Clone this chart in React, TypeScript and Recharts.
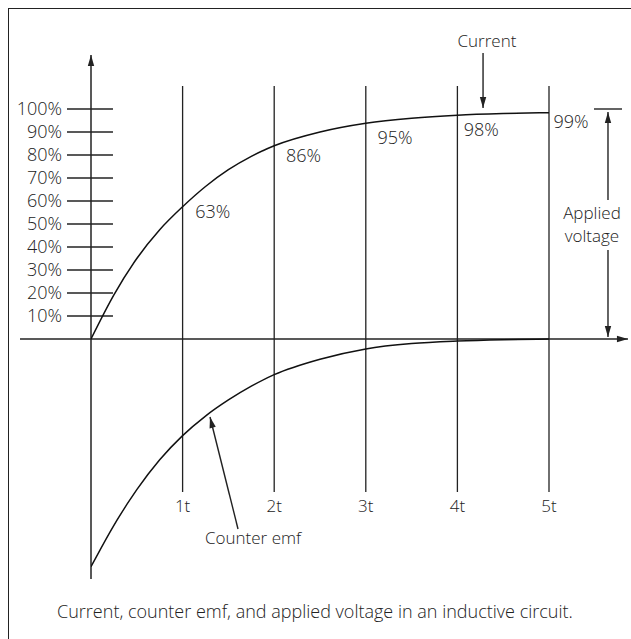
import React from 'react';
import { LineChart, Line, XAxis, YAxis, ReferenceLine, ReferenceDot } from 'recharts';

// ---- data ----
const timeConstants = [1, 2, 3, 4, 5];
const timeLabels = ['1t', '2t', '3t', '4t', '5t'];
const percentTicks = [10, 20, 30, 40, 50, 60, 70, 80, 90, 100];
const sampleT = [0, 0.25, 0.5, 0.75, 1, 1.25, 1.5, 1.75, 2, 2.5, 3, 3.5, 4, 4.5, 5];
const currentPct = [0, 19.2, 35, 47.5, 57.5, 66.3, 73.6, 79.4, 84, 90, 93.8, 96, 97.3, 98, 98.4];
const counterEmfPct = [-99, -81, -65.5, -52.5, -42, -33.5, -26.5, -20.5, -15.5, -8.8, -4.3, -2, -0.9, -0.3, 0];
const stepLabels = ['63%', '86%', '95%', '98%', '99%'];

const currentData = sampleT.map((t, i) => ({ t, v: currentPct[i] }));
const emfData = sampleT.map((t, i) => ({ t, v: counterEmfPct[i] }));

// ---- layout (data coordinates of annotations) ----
const stepLabelPos = [
  { t: 1.33, y: 55.8 },
  { t: 2.32, y: 80 },
  { t: 3.32, y: 88 },
  { t: 4.26, y: 91.2 },
  { t: 5.24, y: 94.9 },
];
const FONT = '"Open Sans", "Noto Sans", sans-serif';
const INK = '#222';
const TEXT = '#222';

const arrowShape = (end: boolean, width = 1.4) => (props: any) => {
  const { x1, y1, x2, y2 } = props;
  const els: any[] = [
    <line key="l" x1={x1} y1={y1} x2={x2} y2={y2} stroke={INK} strokeWidth={width} />,
  ];
  if (end) {
    const ang = Math.atan2(y2 - y1, x2 - x1);
    const len = 11;
    const half = 3.2;
    const bx = x2 - len * Math.cos(ang);
    const by = y2 - len * Math.sin(ang);
    const px = -Math.sin(ang) * half;
    const py = Math.cos(ang) * half;
    els.push(
      <polygon
        key="a"
        points={`${x2},${y2} ${bx + px},${by + py} ${bx - px},${by - py}`}
        fill={INK}
      />
    );
  }
  return <g>{els}</g>;
};

const textShape = (value: string, size = 17) => (props: any) => (
  <text
    x={props.cx}
    y={props.cy}
    textAnchor="middle"
    dominantBaseline="central"
    fontFamily={FONT}
    fontWeight={300}
    fontSize={size}
    fill={TEXT}
  >
    {value}
  </text>
);

export default function App() {
  return (
    <div
      style={{
        position: 'fixed',
        left: 8,
        top: 8,
        width: 623,
        height: 631,
        boxSizing: 'border-box',
        borderTop: `1.5px solid ${INK}`,
        borderLeft: `1.5px solid ${INK}`,
        background: '#fff',
        fontFamily: FONT,
      }}
    >
      <LineChart
        width={621}
        height={629}
        margin={{ top: 100, right: 81, bottom: 69, left: 0 }}
      >
        <XAxis type="number" dataKey="t" domain={[0, 5]} hide allowDataOverflow />
        <YAxis
          type="number"
          domain={[-100, 100]}
          ticks={percentTicks}
          interval={0}
          width={82}
          axisLine={false}
          tickLine={false}
          tickSize={0}
          tickMargin={29}
          tickFormatter={(v: number) => `${v}%`}
          tick={{ fill: TEXT, fontSize: 18, fontFamily: FONT, fontWeight: 300 }}
          allowDataOverflow
        />

        {/* time-constant verticals */}
        {timeConstants.map((t) => (
          <ReferenceLine
            key={'v' + t}
            segment={[{ x: t, y: -66.5 }, { x: t, y: 110 }]}
            ifOverflow="visible"
            shape={arrowShape(false, 1.3)}
          />
        ))}

        {/* percent tick marks */}
        {percentTicks.map((p) => (
          <ReferenceLine
            key={'p' + p}
            segment={[{ x: -0.262, y: p }, { x: 0.24, y: p }]}
            ifOverflow="visible"
            shape={arrowShape(false, 1.4)}
          />
        ))}

        {/* axes */}
        <ReferenceLine
          segment={[{ x: 0, y: -104.3 }, { x: 0, y: 123.5 }]}
          ifOverflow="visible"
          shape={arrowShape(true, 1.5)}
        />
        <ReferenceLine
          segment={[{ x: -0.775, y: 0 }, { x: 5.862, y: 0 }]}
          ifOverflow="visible"
          shape={arrowShape(true, 1.5)}
        />

        <Line
          data={currentData}
          dataKey="v"
          type="monotone"
          dot={false}
          stroke="#111"
          strokeWidth={1.5}
          isAnimationActive={false}
        />
        <Line
          data={emfData}
          dataKey="v"
          type="monotone"
          dot={false}
          stroke="#111"
          strokeWidth={1.5}
          isAnimationActive={false}
        />

        {/* Current pointer */}
        <ReferenceLine
          segment={[{ x: 4.28, y: 124.3 }, { x: 4.28, y: 100.4 }]}
          ifOverflow="visible"
          shape={arrowShape(true, 1.4)}
        />
        {/* Applied voltage bracket */}
        <ReferenceLine
          segment={[{ x: 5.491, y: 100 }, { x: 5.797, y: 100 }]}
          ifOverflow="visible"
          shape={arrowShape(false, 1.4)}
        />
        <ReferenceLine
          segment={[{ x: 5.644, y: 60.4 }, { x: 5.644, y: 98.7 }]}
          ifOverflow="visible"
          shape={arrowShape(true, 1.4)}
        />
        <ReferenceLine
          segment={[{ x: 5.644, y: 38.7 }, { x: 5.644, y: 0.9 }]}
          ifOverflow="visible"
          shape={arrowShape(true, 1.4)}
        />
        {/* Counter emf pointer */}
        <ReferenceLine
          segment={[{ x: 1.605, y: -82.6 }, { x: 1.299, y: -33.9 }]}
          ifOverflow="visible"
          shape={arrowShape(true, 1.4)}
        />

        {/* texts */}
        {stepLabels.map((s, i) => (
          <ReferenceDot
            key={'s' + i}
            x={stepLabelPos[i].t}
            y={stepLabelPos[i].y}
            r={0}
            ifOverflow="visible"
            shape={textShape(s, 18)}
          />
        ))}
        {timeConstants.map((t, i) => (
          <ReferenceDot
            key={'tl' + t}
            x={t}
            y={-72.6}
            r={0}
            ifOverflow="visible"
            shape={textShape(timeLabels[i], 17)}
          />
        ))}
        <ReferenceDot x={4.323} y={129.6} r={0} ifOverflow="visible" shape={textShape('Current', 17)} />
        <ReferenceDot x={5.469} y={54.8} r={0} ifOverflow="visible" shape={textShape('Applied', 17)} />
        <ReferenceDot x={5.469} y={45.2} r={0} ifOverflow="visible" shape={textShape('voltage', 17)} />
        <ReferenceDot x={1.769} y={-86.5} r={0} ifOverflow="visible" shape={textShape('Counter emf', 17)} />
        <ReferenceDot
          x={2.445}
          y={-118.3}
          r={0}
          ifOverflow="visible"
          shape={textShape('Current, counter emf, and applied voltage in an inductive circuit.', 18)}
        />
      </LineChart>
    </div>
  );
}
